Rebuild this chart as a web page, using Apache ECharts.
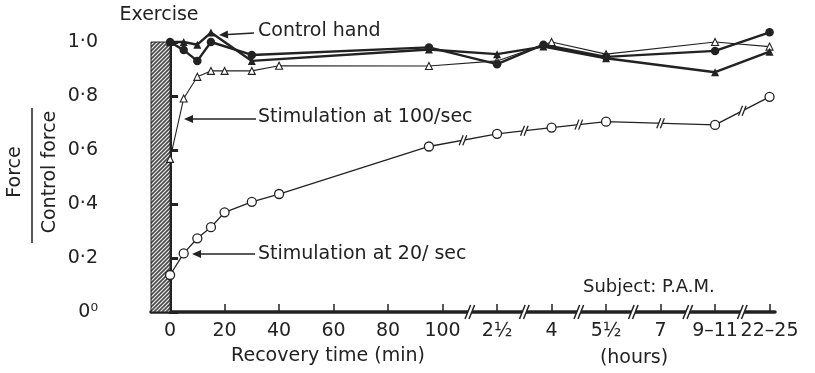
<!DOCTYPE html>
<html><head><meta charset="utf-8">
<script src="https://cdn.jsdelivr.net/npm/echarts@6/dist/echarts.min.js"></script>
<style>html,body{margin:0;padding:0;background:#fff}#c{width:815px;height:373px}</style>
</head><body><div id="c"></div>
<script>
// ---- data ----
const tickValues = [0,20,40,60,80,100,120,140,160,180,200,220];
const tickLabels = ['0','20','40','60','80','100','2½','4','5½','7','9–11','22–25'];
const yTicks = [0,0.2,0.4,0.6,0.8,1.0];
const yTickLabels = ['0⁰','0·2','0·4','0·6','0·8','1·0'];
const axisBreaks = [110,130,150,170,190,210];
const exerciseSpan = [-7, 0];
const exerciseTop = 1.0;

const filledCircleX = [0,5,10,15,30,95,120,137,160,200,220];
const filledCircleY = [1.0,0.97,0.93,1.0,0.952,0.98,0.918,0.99,0.945,0.967,1.036];
const filledTriX = [0,5,10,15,30,95,120,137,160,200,220];
const filledTriY = [1.0,1.0,0.99,1.035,0.93,0.972,0.955,0.983,0.94,0.888,0.964];
const stim100X = [0,5,10,15,20,30,40,95,120,140,160,200,220];
const stim100Y = [0.567,0.791,0.871,0.893,0.893,0.893,0.912,0.911,0.93,1.0,0.955,1.0,0.983];
const stim20X = [0,5,10,15,20,30,40,95,120,140,160,200,220];
const stim20Y = [0.137,0.217,0.273,0.314,0.369,0.408,0.437,0.613,0.66,0.683,0.705,0.693,0.797];

const ink = '#222';
const FONT = 'DejaVu Sans';
const zip = (xs, ys) => xs.map((x, i) => [x, ys[i]]);

const lineBreaks = [];
for (let i = 0; i < stim20X.length - 1; i++) {
  if (stim20X[i] >= 95) lineBreaks.push([(stim20X[i] + stim20X[i+1]) / 2, (stim20Y[i] + stim20Y[i+1]) / 2]);
}
const axisBreakData = axisBreaks.map(x => [x, 0]);

function hatch() {
  const s = 4;
  const c = document.createElement('canvas'); c.width = s; c.height = s;
  const g = c.getContext('2d');
  g.fillStyle = '#4a4a4a'; g.fillRect(0, 0, s, s);
  g.strokeStyle = '#f0f0f0'; g.lineWidth = 1.2;
  g.beginPath();
  g.moveTo(0, s); g.lineTo(s, 0);
  g.moveTo(-1, 1); g.lineTo(1, -1);
  g.moveTo(s - 1, s + 1); g.lineTo(s + 1, s - 1);
  g.stroke();
  return c;
}
const hatchCanvas = hatch();

function breakItem(h, w, lw) {
  return (params, api) => {
    const p = api.coord([api.value(0), api.value(1)]);
    const dx = h * 0.4;
    return {type: 'group', children: [
      {type: 'polygon', shape: {points: [[p[0]-w-dx, p[1]+h], [p[0]-w+dx, p[1]-h], [p[0]+w+dx, p[1]-h], [p[0]+w-dx, p[1]+h]]}, style: {fill: '#fff'}},
      {type: 'line', shape: {x1: p[0]-w-dx, y1: p[1]+h, x2: p[0]-w+dx, y2: p[1]-h}, style: {stroke: ink, lineWidth: lw}},
      {type: 'line', shape: {x1: p[0]+w-dx, y1: p[1]+h, x2: p[0]+w+dx, y2: p[1]-h}, style: {stroke: ink, lineWidth: lw}}
    ]};
  };
}

function arrow(x1, y1, x2, y2) {
  const ang = Math.atan2(y2 - y1, x2 - x1);
  const L = 9, W = 4;
  const bx = x2 - L * Math.cos(ang), by = y2 - L * Math.sin(ang);
  const nx = -Math.sin(ang) * W, ny = Math.cos(ang) * W;
  return [
    {type: 'line', shape: {x1, y1, x2: bx, y2: by}, style: {stroke: ink, lineWidth: 1.6}},
    {type: 'polygon', shape: {points: [[x2, y2], [bx + nx, by + ny], [bx - nx, by - ny]]}, style: {fill: ink}}
  ];
}
const txt = (text, x, y, align, size) => ({type: 'text', x, y, style: {text, fill: ink, font: `${size || 19}px "${FONT}"`, align: align || 'left', verticalAlign: 'middle'}});

const chart = echarts.init(document.getElementById('c'));
chart.setOption({
  animation: false,
  backgroundColor: '#fff',
  grid: {left: 151, right: 40, top: 42, bottom: 61},
  xAxis: {
    type: 'value', min: -7, max: 222,
    axisLine: {show: true, lineStyle: {color: ink, width: 3.5}},
    axisTick: {show: true, inside: true, length: 8, lineStyle: {color: ink, width: 1.5}, customValues: tickValues},
    axisLabel: {customValues: tickValues, margin: 10, color: ink, fontFamily: FONT, fontSize: 19,
      formatter: v => { const i = tickValues.indexOf(Math.round(v)); return i >= 0 ? tickLabels[i] : ''; }},
    splitLine: {show: false}
  },
  yAxis: {
    type: 'value', min: 0, max: 1, interval: 0.2, offset: 38,
    axisLine: {show: true, lineStyle: {color: ink, width: 4}},
    axisTick: {show: true, inside: true, length: 8, lineStyle: {color: ink, width: 3}},
    axisLabel: {margin: 15, color: ink, fontFamily: FONT, fontSize: 19,
      formatter: v => { const i = yTicks.findIndex(t => Math.abs(t - v) < 1e-6); return i >= 0 ? yTickLabels[i] : ''; }},
    splitLine: {show: false}
  },
  series: [
    {type: 'custom', z: 1, silent: true, clip: false,
      renderItem: (params, api) => {
        const a = api.coord([exerciseSpan[0], exerciseTop]);
        const b = api.coord([exerciseSpan[1], 0]);
        return {type: 'rect', shape: {x: a[0], y: a[1], width: b[0] - a[0], height: b[1] - a[1]},
          style: {fill: {image: hatchCanvas, repeat: 'repeat'}, stroke: ink, lineWidth: 1}};
      },
      data: [[exerciseSpan[0], exerciseTop]]},
    {type: 'line', z: 3, clip: false, data: zip(stim20X, stim20Y), symbol: 'circle', symbolSize: 9,
      lineStyle: {color: ink, width: 1.3}, itemStyle: {color: '#fff', borderColor: ink, borderWidth: 1.3}},
    {type: 'custom', z: 4, clip: false, silent: true, renderItem: breakItem(5, 1.8, 1.3), data: lineBreaks},
    {type: 'line', z: 3, clip: false, data: zip(stim100X, stim100Y), symbol: 'triangle', symbolSize: 7,
      lineStyle: {color: ink, width: 1.1}, itemStyle: {color: '#fff', borderColor: ink, borderWidth: 1.1}},
    {type: 'line', z: 5, clip: false, data: zip(filledTriX, filledTriY), symbol: 'triangle', symbolSize: 8,
      lineStyle: {color: ink, width: 2.4}, itemStyle: {color: ink}},
    {type: 'line', z: 5, clip: false, data: zip(filledCircleX, filledCircleY), symbol: 'circle', symbolSize: 8.5,
      lineStyle: {color: ink, width: 2.4}, itemStyle: {color: ink}},
    {type: 'custom', z: 6, clip: false, silent: true, renderItem: breakItem(7, 2, 1.5), data: axisBreakData}
  ],
  graphic: [
    txt('Exercise', 159, 15, 'center'),
    txt('Control hand', 258, 31),
    ...arrow(254, 33, 219, 35),
    txt('Stimulation at 100/sec', 258, 117),
    ...arrow(256, 119, 184, 119),
    txt('Stimulation at 20/ sec', 258, 254),
    ...arrow(255, 254, 192, 254),
    txt('Subject: P.A.M.', 583, 287, 'left', 18),
    txt('Recovery time (min)', 328, 356, 'center'),
    txt('(hours)', 634, 358, 'center'),
    {type: 'text', x: 15, y: 172, rotation: Math.PI / 2, style: {text: 'Force', fill: ink, font: `19px "${FONT}"`, align: 'center', verticalAlign: 'middle'}},
    {type: 'line', shape: {x1: 32, y1: 108, x2: 32, y2: 243}, style: {stroke: ink, lineWidth: 1.5}},
    {type: 'text', x: 50, y: 172, rotation: Math.PI / 2, style: {text: 'Control force', fill: ink, font: `19px "${FONT}"`, align: 'center', verticalAlign: 'middle'}}
  ]
});
</script>
</body></html>
